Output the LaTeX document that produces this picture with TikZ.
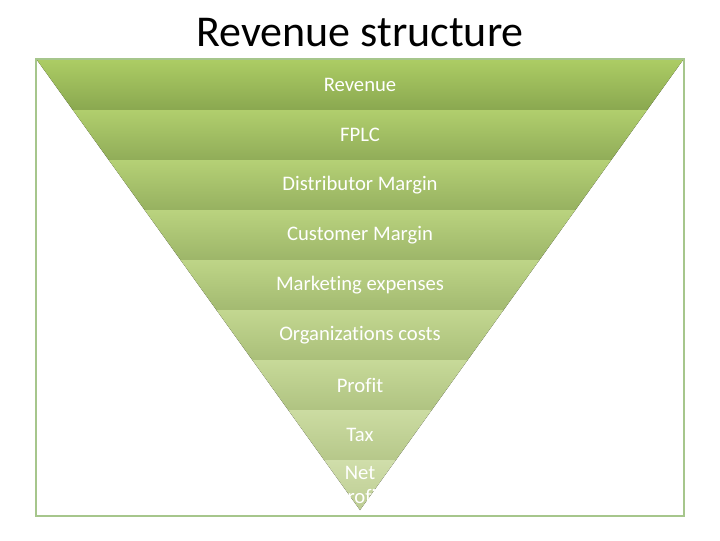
\documentclass[tikz,border=0pt]{standalone}
\usepackage{fontspec}
\setmainfont[Ligatures={NoCommon}]{Carlito}
\definecolor{topA}{RGB}{172,204,100}
\definecolor{botA}{RGB}{138,168,80}
\definecolor{topB}{RGB}{208,222,170}
\definecolor{botB}{RGB}{188,204,146}
\definecolor{framecol}{RGB}{166,198,140}
\tikzset{
  lbl/.style={text=white, font=\fontsize{15.5}{18}\selectfont, inner sep=0pt, align=center},
  ttl/.style={text=black, font=\fontsize{33}{38}\selectfont, inner sep=0pt},
}
\begin{document}
\begin{tikzpicture}[x=0.75pt,y=-0.75pt]
\useasboundingbox (0,0) rectangle (720,540);
\node[ttl] (title) at (360,33) {Revenue structure};
\foreach \i in {0,...,8}{
  \pgfmathsetmacro\ya{60+50*\i}
  \pgfmathsetmacro\yb{\ya+50}
  \pgfmathsetmacro\ha{0.717778*(510-\ya)}
  \pgfmathsetmacro\hb{0.717778*(510-\yb)}
  \pgfmathtruncatemacro\p{100-12.5*\i}
  \colorlet{tc}{topA!\p!topB}
  \colorlet{bc}{botA!\p!botB}
  \fill[top color=tc, bottom color=bc] (360-\ha,\ya) -- (360+\ha,\ya) -- (360+\hb,\yb) -- (360-\hb,\yb) -- cycle;
}
\draw[framecol, line width=1.6pt] (36,59) rectangle (684,516);
\node[lbl] (n1) at (360,85) {Revenue};
\node[lbl] (n2) at (360,135) {FPLC};
\node[lbl] (n3) at (360,185) {Distributor Margin};
\node[lbl] (n4) at (360,235) {Customer Margin};
\node[lbl] (n5) at (360,285) {Marketing expenses};
\node[lbl] (n6) at (360,335) {Organizations costs};
\node[lbl] (n7) at (360,385) {Profit};
\node[lbl] (n8) at (360,435) {Tax};
\node[lbl] (n9) at (360,487) {Net\\profit};
\end{tikzpicture}
\end{document}
